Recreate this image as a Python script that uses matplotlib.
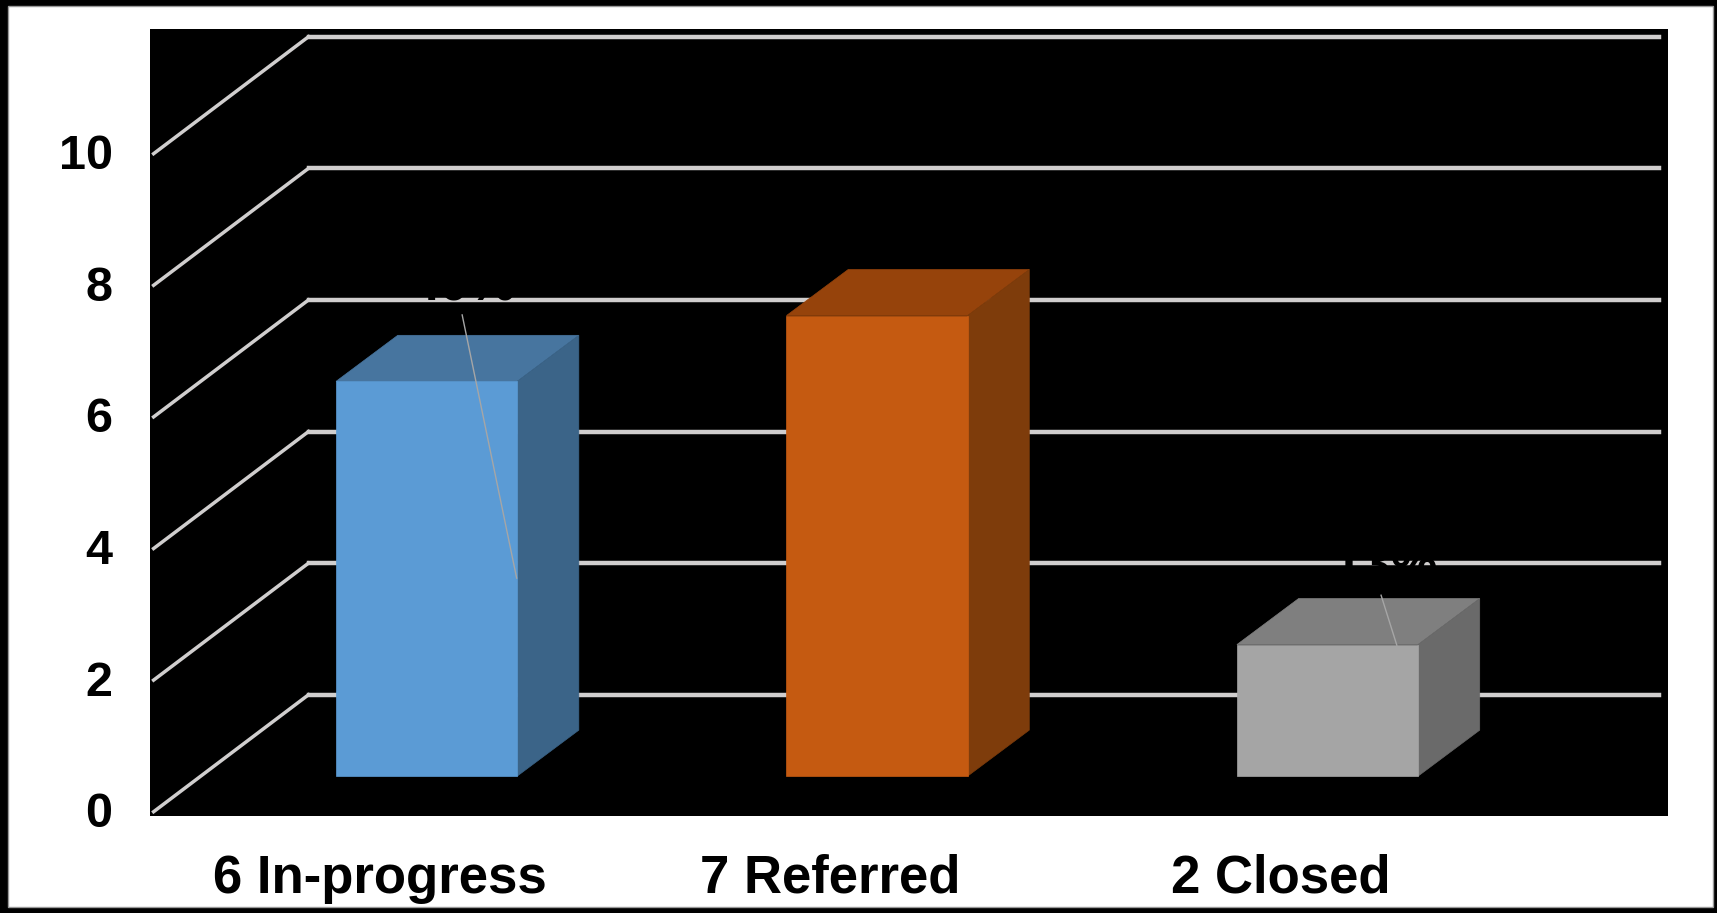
import numpy as np
import matplotlib.pyplot as plt
from matplotlib.patches import Polygon, Rectangle
from matplotlib.transforms import ScaledTranslation

plt.rcParams['font.family'] = ['Liberation Sans', 'DejaVu Sans']

categories = ['6 In-progress', '7 Referred', '2 Closed']
values = [6, 7, 2]
percents = ['40%', '47%', '13%']
yticks = [0, 2, 4, 6, 8, 10]

front_colors = ['#5B9BD5', '#C55A11', '#A5A5A5']
top_colors = ['#47759F', '#96430B', '#7F7F7F']
side_colors = ['#3B6488', '#7E3C0B', '#6A6A6A']

# oblique depth, in axis units
wall_dx = 0.344
wall_dy = 1.778
bar_front_dy = 0.54
bar_dx = 0.137
bar_dy = 0.70
bar_w = 0.402

W, H = 1717, 913
fig = plt.figure(figsize=(W/100, H/100), dpi=100, facecolor='black')

# white sheet inside the black border
fig.add_artist(Rectangle((8/W, 1-907/H), (1713-8)/W, (907-6)/H, transform=fig.transFigure,
                         facecolor='white', edgecolor='#999999', linewidth=1, zorder=-1))

ax = fig.add_axes([150/W, 1-816/H, (1668-150)/W, (816-29)/H], facecolor='black')
ax.set_xlim(-0.614, 2.756)
ax.set_ylim(-0.065, 11.895)

# gridlines: floor edge, then along the back wall
for v in yticks:
    ax.plot([-0.606, -0.606+wall_dx], [v, v+wall_dy], color='#D0CECE', lw=2.5, zorder=1)
    ax.plot([-0.606+wall_dx, 2.735], [v+wall_dy, v+wall_dy], color='#D0CECE', lw=3.2, zorder=1)

x = np.arange(len(values))
for i in range(len(values)):
    x0 = x[i]-bar_w/2
    x1 = x[i]+bar_w/2
    y0 = bar_front_dy
    y1 = bar_front_dy+values[i]
    ax.add_patch(Polygon([(x0, y1), (x1, y1), (x1+bar_dx, y1+bar_dy), (x0+bar_dx, y1+bar_dy)],
                         facecolor=top_colors[i], edgecolor=top_colors[i], lw=0.5, zorder=3))
    ax.add_patch(Polygon([(x1, y0), (x1+bar_dx, y0+bar_dy), (x1+bar_dx, y1+bar_dy), (x1, y1)],
                         facecolor=side_colors[i], edgecolor=side_colors[i], lw=0.5, zorder=3))
    ax.add_patch(Polygon([(x0, y0), (x1, y0), (x1, y1), (x0, y1)],
                         facecolor=front_colors[i], edgecolor=front_colors[i], lw=0.5, zorder=3))

# leader lines of the data labels
leader_x = [[0.079, 0.2], [2.119, 2.154]]
leader_y = [[7.55, 3.55], [3.29, 2.53]]
for lx, ly in zip(leader_x, leader_y):
    ax.plot(lx, ly, color='#A6A6A6', lw=1, zorder=4)

# the labels are black on black, only visible where they cross a gridline
ax.text(0.08, 7.77, percents[0], color='black', fontsize=38, fontweight='bold',
        ha='center', va='baseline', zorder=2)
ax.text(2.128, 3.50, percents[2], color='black', fontsize=38, fontweight='bold',
        ha='center', va='baseline', zorder=2)

ax.set_yticks(yticks)
ax.set_yticklabels([str(v) for v in yticks], fontsize=35, fontweight='bold', color='black')
ax.set_xticks(x-0.103)
ax.set_xticklabels(categories, fontsize=38, fontweight='bold', color='black')
ax.tick_params(axis='y', length=0, pad=27)
ax.tick_params(axis='x', length=0, pad=27)
for s in ax.spines.values():
    s.set_visible(False)

# y labels sit a little higher than the gridline ends
for t in ax.get_yticklabels():
    t.set_transform(t.get_transform()+ScaledTranslation(0, 1.5/72, fig.dpi_scale_trans))

fig.savefig('out.png', dpi=100, facecolor='black')
